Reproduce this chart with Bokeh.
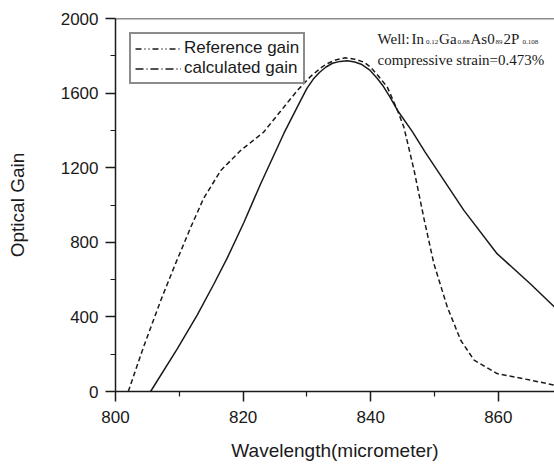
from bokeh.plotting import figure
from bokeh.models import Range1d, FixedTicker, Span, Label, Legend, LegendItem, ColumnDataSource
from bokeh.embed import file_html
from bokeh.resources import INLINE

# Reference gain (dashed curve)
ref_wl = [802.0, 804.4, 807.1, 809.4, 811.8, 813.8, 816.5, 819.6, 823.2, 826.5, 828.5, 830.6,
          832.0, 833.0, 834.5, 836.0, 837.5, 839.0, 840.0, 841.0, 842.6, 844.2, 845.2, 846.8,
          848.4, 849.9, 852.0, 854.1, 856.2, 859.8, 865.0, 868.8]
ref_gain = [0, 239, 489, 685, 881, 1035, 1185, 1292, 1390, 1530, 1614, 1690,
            1730, 1755, 1778, 1789, 1782, 1765, 1738, 1700, 1632, 1507, 1417, 1185,
            918, 685, 453, 275, 168, 96, 61, 34]

# Calculated gain (solid curve)
calc_wl = [805.5, 809.7, 812.8, 815.4, 817.5, 820.1, 822.7, 826.4, 829.0, 830.0, 831.0, 832.0,
           833.0, 834.0, 835.2, 836.3, 837.5, 838.5, 839.8, 841.0, 842.0, 843.0, 844.2, 846.5,
           848.5, 854.6, 859.8, 865.0, 868.8]
calc_gain = [0, 230, 410, 575, 715, 905, 1110, 1385, 1560, 1625, 1675, 1712,
             1740, 1760, 1770, 1773, 1767, 1755, 1725, 1680, 1635, 1580, 1507, 1395,
             1285, 971, 739, 578, 453]

x_major = [800, 820, 840, 860]
x_minor = [810, 830, 850, 870]
y_major = [0, 400, 800, 1200, 1600, 2000]
y_minor = [200, 600, 1000, 1400, 1800]

legend_labels = ["Reference gain", "calculated gain"]

FONT = "Liberation Sans"
SERIF = "Liberation Serif"
INK = "#1a1a1a"

p = figure(width=554, height=467, output_backend="svg", toolbar_location=None,
           x_range=Range1d(800, 868.8), y_range=Range1d(0, 2000),
           min_border_left=115, min_border_right=0, min_border_top=18, min_border_bottom=76)
p.outline_line_color = None
p.grid.visible = False
p.background_fill_color = "white"
p.border_fill_color = "white"

for ax in (p.xaxis[0], p.yaxis[0]):
    ax.axis_line_width = 1.5
    ax.axis_line_color = INK
    ax.major_tick_line_color = INK
    ax.major_tick_line_width = 1.5
    ax.minor_tick_line_color = INK
    ax.minor_tick_line_width = 1.2
    ax.major_tick_out = 10
    ax.major_tick_in = 0
    ax.minor_tick_out = 5
    ax.minor_tick_in = 0
    ax.major_label_text_font = FONT
    ax.major_label_text_font_size = "17px"
    ax.major_label_text_color = INK
    ax.axis_label_text_font = FONT
    ax.axis_label_text_font_size = "19px"
    ax.axis_label_text_font_style = "normal"
    ax.axis_label_text_color = INK

p.xaxis.ticker = FixedTicker(ticks=x_major, minor_ticks=x_minor)
p.yaxis.ticker = FixedTicker(ticks=y_major, minor_ticks=y_minor)
p.xaxis.axis_label = "Wavelength(micrometer)"
p.yaxis.axis_label = "Optical Gain"
p.xaxis.major_label_standoff = 9
p.xaxis.axis_label_standoff = 14
p.yaxis.major_label_standoff = 7
p.yaxis.axis_label_standoff = 30

# top frame line
p.add_layout(Span(location=2000, dimension="width", line_color=INK, line_width=1.5))

p.line(ref_wl, ref_gain, line_color=INK, line_width=1.5, line_dash="5 3")
p.line(calc_wl, calc_gain, line_color=INK, line_width=1.5)

# legend glyphs as drawn in the reference (sources lie outside the visible range)
off = ColumnDataSource(data=dict(x=[790, 791], y=[-500, -500]))
r1 = p.line("x", "y", source=off, line_color=INK, line_width=1.3, line_dash="6 3 1 3 1 3")
r2 = p.line("x", "y", source=off, line_color=INK, line_width=1.3, line_dash="8 3 1 3")
legend = Legend(items=[LegendItem(label=legend_labels[0], renderers=[r1]),
                       LegendItem(label=legend_labels[1], renderers=[r2])],
                location="top_left")
legend.margin = 14
legend.padding = 4
legend.spacing = 0
legend.glyph_width = 46
legend.glyph_height = 19
legend.label_height = 19
legend.label_standoff = 3
legend.label_text_font = FONT
legend.label_text_font_size = "17px"
legend.label_text_color = INK
legend.border_line_color = INK
legend.border_line_width = 2
legend.background_fill_alpha = 1
p.add_layout(legend)

# annotation (composition with subscripts)
main_parts = [("Well:", 841.07), ("In", 846.39), ("Ga", 850.71), ("As0", 855.64), ("2P", 860.82)]
sub_parts = [("0.12", 848.67), ("0.88", 853.61), ("89", 859.56), ("0.108", 863.79)]
for t, xx in main_parts:
    p.add_layout(Label(x=xx, y=1891, text=t, text_font=SERIF, text_font_size="15px",
                       text_color=INK, text_baseline="alphabetic"))
for t, xx in sub_parts:
    p.add_layout(Label(x=xx, y=1874, text=t, text_font=SERIF, text_font_size="7px",
                       text_color=INK, text_baseline="alphabetic"))
p.add_layout(Label(x=841.07, y=1777, text="compressive strain=0.473%", text_font=SERIF,
                   text_font_size="15px", text_color=INK, text_baseline="alphabetic"))

open("out.html", "w").write(file_html(p, INLINE))
